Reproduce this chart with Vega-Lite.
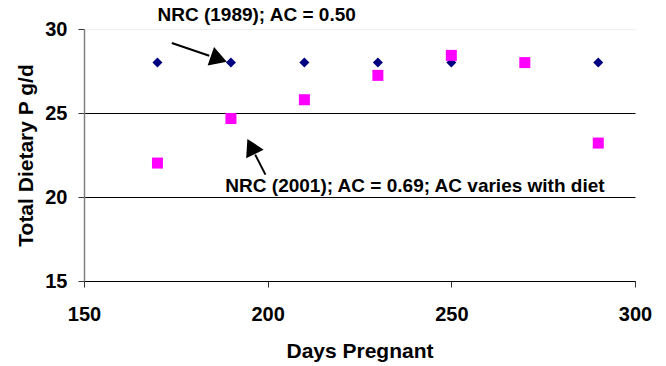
{
  "$schema": "https://vega.github.io/schema/vega-lite/v6.json",
  "width": 551,
  "height": 252,
  "autosize": "none",
  "padding": {"left": 84, "top": 29, "right": 31, "bottom": 85},
  "background": "white",
  "config": {"view": {"stroke": null}, "font": "Liberation Sans"},
  "datasets": {
    "nrc1989": [
      {"day": 170, "p": 28}, {"day": 190, "p": 28}, {"day": 210, "p": 28},
      {"day": 230, "p": 28}, {"day": 250, "p": 28}, {"day": 270, "p": 28},
      {"day": 290, "p": 28}
    ],
    "nrc2001": [
      {"day": 170, "p": 22.02}, {"day": 190, "p": 24.67}, {"day": 210, "p": 25.79},
      {"day": 230, "p": 27.24}, {"day": 250, "p": 28.43}, {"day": 270, "p": 28.0},
      {"day": 290, "p": 23.21}
    ],
    "arrow1": [{"x1": 173.9, "y1": 29.17, "x2": 184.1, "y2": 28.41, "hx": 186.7, "hy": 28.21}],
    "arrow2": [{"x1": 199.4, "y1": 21.33, "x2": 196.6, "y2": 22.52, "hx": 195.5, "hy": 23.01}],
    "labels": [
      {"x": 197.0, "y": 30.85, "text": "NRC (1989); AC = 0.50"},
      {"x": 240.1, "y": 20.64, "text": "NRC (2001); AC = 0.69; AC varies with diet"}
    ]
  },
  "layer": [
    {
      "data": {"name": "nrc1989"},
      "mark": {"type": "point", "shape": "diamond", "filled": true, "color": "#000080", "opacity": 1, "size": 100},
      "encoding": {
        "x": {
          "field": "day", "type": "quantitative",
          "scale": {"domain": [150, 300], "nice": false, "zero": false},
          "axis": {
            "values": [150, 200, 250, 300], "grid": false,
            "domainColor": "black", "domainWidth": 1,
            "tickColor": "#333333", "tickSize": 6, "tickWidth": 1,
            "labelFont": "Liberation Sans", "labelFontSize": 20, "labelFontWeight": "bold", "labelColor": "black",
            "labelPadding": 17, "labelFlush": false,
            "title": "Days Pregnant", "titleFont": "Liberation Sans", "titleFontSize": 21, "titleFontWeight": "bold",
            "titleColor": "black", "titlePadding": 16
          }
        },
        "y": {
          "field": "p", "type": "quantitative",
          "scale": {"domain": [15, 30], "nice": false, "zero": false},
          "axis": {
            "values": [15, 20, 25, 30], "grid": true,
            "gridColor": {"condition": {"test": "datum.value == 30", "value": "#eeeeee"}, "value": "black"},
            "gridWidth": 1, "gridOpacity": 1,
            "domainColor": "#808080", "domainWidth": 1.5,
            "tickColor": "#333333", "tickSize": 6, "tickWidth": 1,
            "labelFont": "Liberation Sans", "labelFontSize": 20, "labelFontWeight": "bold", "labelColor": "black",
            "labelPadding": 11, "labelFlush": false,
            "title": "Total Dietary P g/d", "titleFont": "Liberation Sans", "titleFontSize": 21, "titleFontWeight": "bold",
            "titleColor": "black", "titlePadding": 8
          }
        }
      }
    },
    {
      "data": {"name": "nrc2001"},
      "mark": {"type": "point", "shape": "square", "filled": true, "color": "#FF00FF", "opacity": 1, "size": 121},
      "encoding": {
        "x": {"field": "day", "type": "quantitative"},
        "y": {"field": "p", "type": "quantitative"}
      }
    },
    {
      "data": {"name": "arrow1"},
      "mark": {"type": "rule", "color": "black", "strokeWidth": 2, "clip": false},
      "encoding": {
        "x": {"field": "x1", "type": "quantitative"},
        "y": {"field": "y1", "type": "quantitative"},
        "x2": {"field": "x2"},
        "y2": {"field": "y2"}
      }
    },
    {
      "data": {"name": "arrow1"},
      "mark": {"type": "point", "shape": "triangle-up", "filled": true, "color": "black", "opacity": 1, "size": 380, "angle": 109.2},
      "encoding": {
        "x": {"field": "hx", "type": "quantitative"},
        "y": {"field": "hy", "type": "quantitative"}
      }
    },
    {
      "data": {"name": "arrow2"},
      "mark": {"type": "rule", "color": "black", "strokeWidth": 2, "clip": false},
      "encoding": {
        "x": {"field": "x1", "type": "quantitative"},
        "y": {"field": "y1", "type": "quantitative"},
        "x2": {"field": "x2"},
        "y2": {"field": "y2"}
      }
    },
    {
      "data": {"name": "arrow2"},
      "mark": {"type": "point", "shape": "triangle-up", "filled": true, "color": "black", "opacity": 1, "size": 380, "angle": 333.5},
      "encoding": {
        "x": {"field": "hx", "type": "quantitative"},
        "y": {"field": "hy", "type": "quantitative"}
      }
    },
    {
      "data": {"name": "labels"},
      "mark": {"type": "text", "font": "Liberation Sans", "fontSize": 19, "fontWeight": "bold", "color": "black", "align": "center", "baseline": "middle", "clip": false},
      "encoding": {
        "x": {"field": "x", "type": "quantitative"},
        "y": {"field": "y", "type": "quantitative"},
        "text": {"field": "text"}
      }
    }
  ]
}
